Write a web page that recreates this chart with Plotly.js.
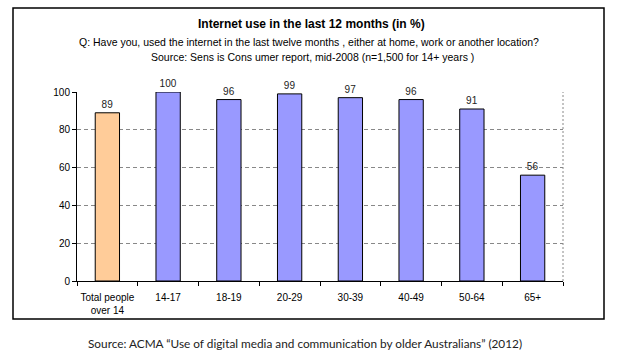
<!DOCTYPE html>
<html>
<head>
<meta charset="utf-8">
<script src="https://cdn.plot.ly/plotly-3.0.1.min.js"></script>
<style>
html,body{margin:0;padding:0;background:#fff;}
#chart{width:617px;height:360px;}
</style>
</head>
<body>
<div id="chart"></div>
<script>
const categories = ["Total people<br>over 14", "14-17", "18-19", "20-29", "30-39", "40-49", "50-64", "65+"];
const values = [89, 100, 96, 99, 97, 96, 91, 56];
const yTicks = [0, 20, 40, 60, 80, 100];

const W = 617, H = 360;
const L = 77, R = 54, T = 92, B = 79;
const pw = W - L - R, ph = H - T - B;
const px = x => (x - L) / pw;
const py = y => (H - B - y) / ph;

const colors = categories.map((c, i) => i === 0 ? "#FFCC99" : "#9999FF");

const trace = {
  type: "bar",
  x: categories,
  y: values,
  marker: {color: colors, line: {color: "#000", width: 1}},
  width: 0.4,
  text: values.map(String),
  textposition: "outside",
  textfont: {family: "Arial, Liberation Sans, sans-serif", size: 10, color: "#222"},
  cliponaxis: false,
  hoverinfo: "none"
};

const font = "Arial, Liberation Sans, sans-serif";
const layout = {
  width: W, height: H,
  margin: {l: L, r: R, t: T, b: B},
  paper_bgcolor: "#fff", plot_bgcolor: "#fff",
  showlegend: false,
  font: {family: font, size: 10, color: "#000"},
  xaxis: {
    type: "category",
    showgrid: false,
    showline: true, linecolor: "#000", linewidth: 1,
    ticks: "outside", tickson: "boundaries", ticklen: 4, tickcolor: "#000",
    tickangle: 0, ticklabelstandoff: 7,
    tickfont: {family: font, size: 10, color: "#000"},
    zeroline: false, fixedrange: true
  },
  yaxis: {
    range: [0, 100],
    tickvals: yTicks,
    showgrid: true, gridcolor: "#888", griddash: "4px,3px", gridwidth: 1,
    showline: true, linecolor: "#000", linewidth: 1,
    ticks: "outside", ticklen: 4, tickcolor: "#000",
    tickfont: {family: font, size: 10, color: "#000"},
    zeroline: false, fixedrange: true
  },
  shapes: [
    {type: "line", xref: "paper", yref: "paper", x0: 1, x1: 1, y0: 0, y1: 1,
     line: {color: "#888", width: 1, dash: "2px,2px"}},
    {type: "rect", xref: "paper", yref: "paper",
     x0: px(13), x1: px(604), y0: py(319), y1: py(8),
     line: {color: "#000", width: 1.5}}
  ],
  annotations: [
    {xref: "paper", yref: "paper", x: px(311), y: py(24), showarrow: false,
     text: "<b>Internet use in the last 12 months (in %)</b>",
     font: {family: font, size: 12, color: "#000"}, xanchor: "center", yanchor: "middle"},
    {xref: "paper", yref: "paper", x: px(309), y: py(42), showarrow: false,
     text: "Q: Have you, used the internet in the last twelve months , either at home, work or another location?",
     font: {family: font, size: 10.5, color: "#000"}, xanchor: "center", yanchor: "middle"},
    {xref: "paper", yref: "paper", x: px(312), y: py(57), showarrow: false,
     text: "Source: Sens is Cons umer report, mid-2008 (n=1,500 for 14+ years )",
     font: {family: font, size: 10.5, color: "#000"}, xanchor: "center", yanchor: "middle"},
    {xref: "paper", yref: "paper", x: px(305), y: py(343), showarrow: false,
     text: "Source: ACMA \u201cUse of digital media and communication by older Australians\u201d (2012)",
     font: {family: "Lato, Open Sans, sans-serif", size: 11.8, color: "#222"}, xanchor: "center", yanchor: "middle"}
  ]
};

Plotly.newPlot("chart", [trace], layout, {displayModeBar: false, staticPlot: true});
</script>
</body>
</html>
